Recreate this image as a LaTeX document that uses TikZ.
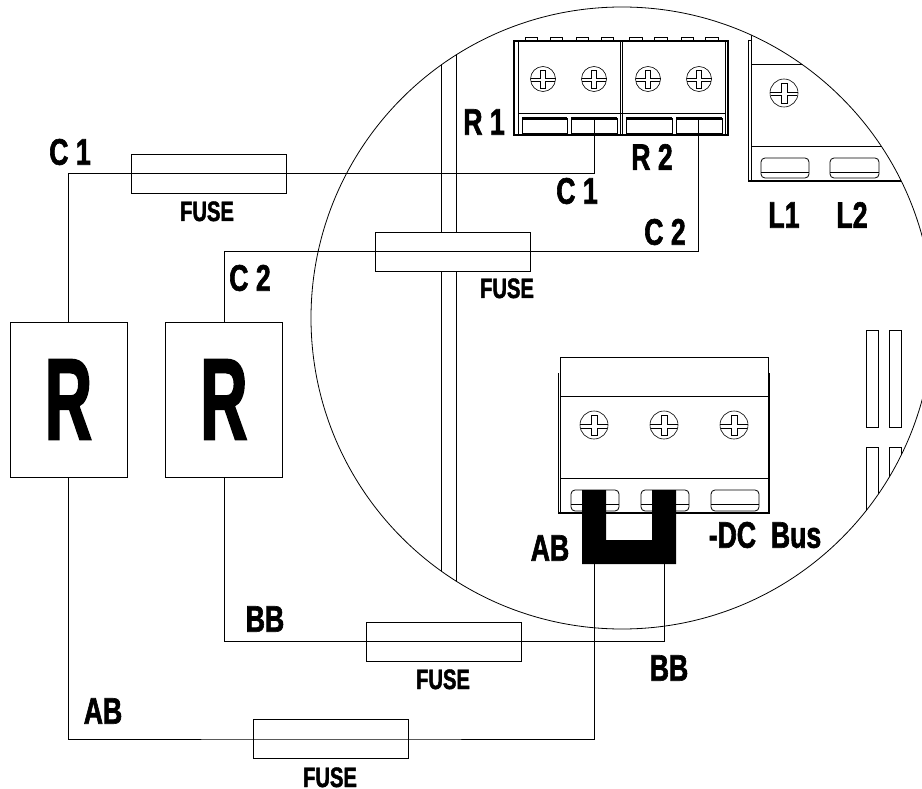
\documentclass[tikz,border=0pt]{standalone}
\usepackage{fontspec}
\newfontfamily\lblfont[FakeStretch=0.72,FakeBold=1.6]{Liberation Sans Bold}
\newfontfamily\bigfont[FakeStretch=0.56,FakeBold=1.6]{Liberation Sans Bold}

\tikzset{
  wire/.style={line width=0.8pt},
  part/.style={line width=0.8pt},
  fusebox/.style={draw, fill=white, line width=0.8pt, minimum width=155pt, minimum height=39pt, inner sep=0pt},
  resbox/.style={draw, line width=0.8pt, minimum width=117pt, minimum height=155pt, inner sep=0pt,
    font=\bigfont\fontsize{116}{116}\selectfont},
  lbl/.style={inner sep=0pt, font=\lblfont\fontsize{37}{37}\selectfont},
  fuselbl/.style={inner sep=0pt, anchor=base, font=\lblfont\fontsize{28}{28}\selectfont},
  pics/screw/.style={code={
    \draw[line width=0.6pt] (0,0) circle (12.5pt);
    \draw[line width=0.6pt] (-12.5,-0.5) -- (-2.5,-0.5) -- (-2.5,-9) -- (2.5,-9) -- (2.5,-0.5) -- (12.5,-0.5);
    \draw[line width=0.6pt] (-12,2.5) -- (-2.5,2.5) -- (-2.5,9.5) -- (2.5,9.5) -- (2.5,2.5) -- (12,2.5);
  }},
}

\begin{document}
\begin{tikzpicture}[x=1pt, y=-1pt]
  \useasboundingbox (0,0) rectangle (922,789);

  % parts seen through the circle
  \begin{scope}
    \clip (622,318) circle (311pt);
    \draw[part] (441,0) -- (441,640);
    \draw[part] (456,0) -- (456,640);
    % L block
    \draw[part] (748,40) -- (748,181);
    \draw[part] (751,30) -- (751,181);
    \draw[part] (748,40) -- (751,40);
    \draw[part] (751,64) -- (922,64);
    \draw[part] (751,146) -- (922,146);
    \draw[line width=1.2pt] (748,181) -- (922,181);
    \pic at (784,93) [scale=1.12] {screw};
    \draw[part, rounded corners=4pt] (761,158) rectangle (809,178);
    \draw[part] (761,172) -- (809,172);
    \draw[part, rounded corners=4pt] (830,158) rectangle (879,178);
    \draw[part] (830,172) -- (879,172);
    % slots on the right
    \draw[part] (866,330) rectangle (878,427);
    \draw[part] (889,330) rectangle (901,427);
    \draw[part] (866,560) -- (866,447) -- (878,447) -- (878,560);
    \draw[part] (889,560) -- (889,447) -- (901,447) -- (901,560);
  \end{scope}
  \draw[part] (622,318) circle (311pt);

  % R1 R2 terminal block
  \draw[line width=1.1pt] (514,41) rectangle (728,135);
  \draw[part] (518,41) -- (518,135);
  \draw[part] (620,41) -- (620,135);
  \draw[part] (622,41) -- (622,135);
  \draw[part] (725,41) -- (725,135);
  \draw[part] (518,113) -- (725,113);
  \draw[part] (525,41) |- (537,37) -- (537,41);
  \draw[part] (550,41) |- (562,37) -- (562,41);
  \draw[part] (576,41) |- (588,37) -- (588,41);
  \draw[part] (601,41) |- (613,37) -- (613,41);
  \draw[part] (629,41) |- (642,37) -- (642,41);
  \draw[part] (654,41) |- (667,37) -- (667,41);
  \draw[part] (681,41) |- (693,37) -- (693,41);
  \draw[part] (705,41) |- (718,37) -- (718,41);
  \pic at (543,79) {screw};
  \pic at (594,79) {screw};
  \pic at (648,79) {screw};
  \pic at (699,79) {screw};
  \draw[part] (522,118) rectangle (567,133);
  \draw[part] (571,118) rectangle (617,133);
  \draw[part] (626,118) rectangle (672,133);
  \draw[part] (676,118) rectangle (722,133);
  \fill (522,117) rectangle (567,120);
  \fill (571,117) rectangle (617,120);
  \fill (626,117) rectangle (672,120);
  \fill (676,117) rectangle (722,120);

  % -DC Bus terminal block
  \draw[part] (560,396) |- (768,357) -- (768,396);
  \draw[line width=1.1pt] (558.5,373) -- (558.5,513) -- (769,513) -- (769,373);
  \draw[part] (560,396) -- (768,396);
  \draw[part] (560,478) -- (768,478);
  \draw[part] (560,373) -- (560,513);
  \draw[part] (768,373) -- (768,513);
  \pic at (594,425) [scale=1.12] {screw};
  \pic at (664,425) [scale=1.12] {screw};
  \pic at (734,425) [scale=1.12] {screw};
  \draw[part, rounded corners=4pt] (571,490) rectangle (619,511);
  \draw[part] (571,504) -- (619,504);
  \draw[part, rounded corners=4pt] (641,490) rectangle (689,511);
  \draw[part] (641,504) -- (689,504);
  \draw[part, rounded corners=4pt] (711,490) rectangle (759,511);
  \draw[part] (711,504) -- (759,504);
  \fill (582,490) -- (606,490) -- (606,540) -- (652,540) -- (652,490) -- (676,490) -- (676,564) -- (582,564) -- cycle;

  % resistors and fuses
  \node[resbox] (rone) at (68.5,399.5) {R};
  \node[resbox] (rtwo) at (224,399.5) {R};
  \node[fusebox] (fuseone) at (208.5,173.5) {};
  \node[fusebox] (fusetwo) at (453,251.5) {};
  \node[fusebox] (fusethree) at (444,641.5) {};
  \node[fusebox] (fusefour) at (331,739) {};

  % wire ends on the terminals
  \coordinate (termcone) at (594,119);
  \coordinate (termctwo) at (698.5,119);
  \coordinate (termab) at (594.5,564);
  \coordinate (termbb) at (664,564);

  \draw[wire] (rone.north) |- (fuseone.center) -- (fuseone.center -| termcone) -- (termcone);
  \draw[wire] (rtwo.north) |- (fusetwo.center) -- (fusetwo.center -| termctwo) -- (termctwo);
  \draw[wire] (rtwo.south) |- (fusethree.center) -- (fusethree.center -| termbb) -- (termbb);
  \draw[wire] (rone.south) |- (fusefour.center) -- (fusefour.center -| termab) -- (termab);

  % labels
  \node[lbl] (cone) at (70,152) {C 1};
  \node[lbl] (ctwo) at (250,278) {C 2};
  \node[lbl] (rlabone) at (484,122) {R 1};
  \node[lbl] (rlabtwo) at (652,157) {R 2};
  \node[lbl] (conein) at (577,191) {C 1};
  \node[lbl] (ctwoin) at (665,232) {C 2};
  \node[lbl] (lone) at (784,215) {L1};
  \node[lbl] (ltwo) at (852,215) {L2};
  \node[lbl] (dcbus) at (765,535) {-DC\ \ Bus};
  \node[lbl] (abin) at (550,548) {AB};
  \node[lbl] (bbin) at (669,668) {BB};
  \node[lbl] (bbout) at (265,619) {BB};
  \node[lbl] (about) at (103,711) {AB};
  \node[fuselbl] (fuselabone) at (207,221) {FUSE};
  \node[fuselbl] (fuselabtwo) at (507,298) {FUSE};
  \node[fuselbl] (fuselabthree) at (443,689) {FUSE};
  \node[fuselbl] (fuselabfour) at (330,787) {FUSE};
\end{tikzpicture}
\end{document}
